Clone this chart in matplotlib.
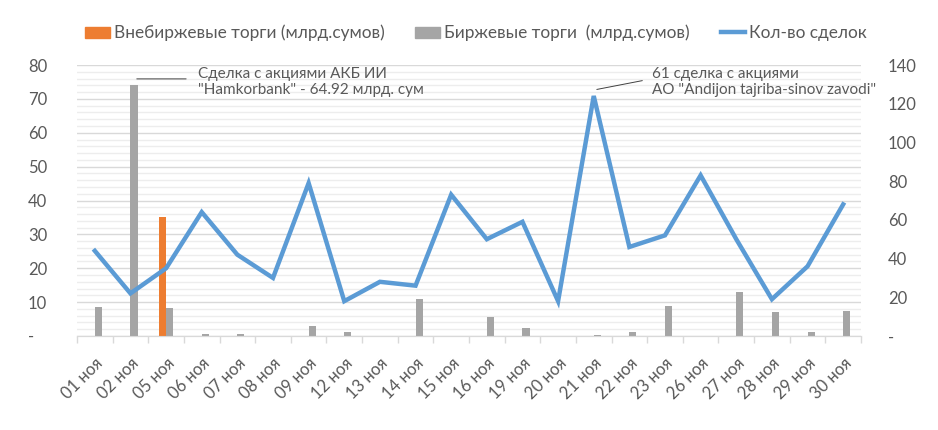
"""Ноябрь: внебиржевые и биржевые торги, количество сделок."""
import matplotlib.pyplot as plt
import numpy as np
from matplotlib.lines import Line2D
from matplotlib.patches import Patch
from matplotlib.ticker import FixedLocator, MultipleLocator

plt.rcParams["font.family"] = ["Lato", "DejaVu Sans"]

days = ["01 ноя", "02 ноя", "05 ноя", "06 ноя", "07 ноя", "08 ноя", "09 ноя",
        "12 ноя", "13 ноя", "14 ноя", "15 ноя", "16 ноя", "19 ноя", "20 ноя",
        "21 ноя", "22 ноя", "23 ноя", "26 ноя", "27 ноя", "28 ноя", "29 ноя",
        "30 ноя"]
otc = [0, 0, 35, 0, 0, 0, 0, 0, 0, 0, 0, 0, 0, 0, 0, 0, 0, 0, 0, 0, 0, 0]
exchange = [8.5, 74, 8.2, 0.5, 0.5, 0, 2.9, 1.1, 0, 11, 0, 5.6, 2.4, 0,
            0.3, 1.2, 8.9, 0, 13.1, 7.2, 1.2, 7.5]
deals = [44, 22, 35, 64, 42, 30, 79, 18, 28, 26, 73, 50, 59, 18, 124, 46,
         52, 83, 50, 19, 36, 68]

TXT = "#595959"
ORANGE = "#ED7D31"
GRAY = "#A5A5A5"
BLUE = "#5B9BD5"
FS = 12

fig = plt.figure(figsize=(9.38, 4.30), dpi=100)
ax = fig.add_axes([77 / 938, 1 - 336 / 430, (861 - 77) / 938, (336 - 65) / 430])
ax2 = ax.twinx()

x = np.arange(len(days))
w = 0.2
ax.bar(x - w / 2, otc, width=w, color=ORANGE, zorder=3)
ax.bar(x + w / 2, exchange, width=w, color=GRAY, zorder=3)
ax2.plot(x, deals, color=BLUE, lw=3.2, solid_joinstyle="miter", zorder=4)

ax.set_xlim(-0.5, len(days) - 0.5)
ax.set_ylim(0, 80)
ax2.set_ylim(0, 140)

# grid: major every 10, minor every 2
ax.yaxis.set_major_locator(MultipleLocator(10))
ax.yaxis.set_minor_locator(MultipleLocator(2))
ax.grid(axis="y", which="major", color="#D9D9D9", lw=1, zorder=0)
ax.grid(axis="y", which="minor", color="#EDEDED", lw=1, zorder=0)
ax.set_axisbelow(True)

ax.set_yticks(np.arange(0, 81, 10))
ax.set_yticklabels(["-   "] + [str(v) for v in range(10, 81, 10)])
ax2.set_yticks(np.arange(0, 141, 20))
ax2.set_yticklabels(["-"] + [str(v) for v in range(20, 141, 20)])
ax.tick_params(axis="y", which="both", length=0, pad=21.5, labelsize=FS,
               labelcolor=TXT)
ax2.tick_params(axis="y", length=0, pad=19.5, labelsize=FS, labelcolor=TXT)

# x axis: labels at centres, tick marks at category boundaries
ax.set_xticks(x)
ax.set_xticklabels(days, rotation=45, ha="right", rotation_mode="anchor",
                   fontsize=FS, color=TXT)
ax.xaxis.set_minor_locator(FixedLocator(np.arange(-0.5, len(days), 1)))
ax.tick_params(axis="x", which="major", length=0, pad=14)
ax.tick_params(axis="x", which="minor", length=5, color="#D9D9D9", width=1)

for a in (ax, ax2):
    for side in ("top", "left", "right"):
        a.spines[side].set_visible(False)
    a.spines["bottom"].set_color("#D9D9D9")

# annotations
ax.annotate("", xy=(1.10, 75.9), xytext=(2.64, 75.9),
            arrowprops=dict(arrowstyle="-", color="#404040", lw=0.7))
ax.text(2.9, 75.0, "Сделка с акциями АКБ ИИ\n\"Hamkorbank\" - 64.92 млрд. сум",
        fontsize=11, color=TXT, va="center", linespacing=1.25)
ax2.annotate("", xy=(14.01, 127.1), xytext=(15.44, 132.2),
             arrowprops=dict(arrowstyle="-", color="#404040", lw=0.7))
ax2.text(15.63, 131.2, "61 сделка с акциями\nАО \"Andijon tajriba-sinov zavodi\"",
         fontsize=11, color=TXT, va="center", linespacing=1.25)

handles = [Patch(color=ORANGE), Patch(color=GRAY),
           Line2D([], [], color=BLUE, lw=3.2)]
labels = ["Внебиржевые торги (млрд.сумов)", "Биржевые торги  (млрд.сумов)",
          "Кол-во сделок"]
fig.legend(handles, labels, loc="center", bbox_to_anchor=(476 / 938, 1 - 33 / 430),
           ncol=3, frameon=False, fontsize=12.4, labelcolor=TXT,
           handlelength=1.45, handleheight=0.64, handletextpad=0.2,
           columnspacing=1.8, borderpad=0)

fig.savefig("out.png", dpi=100)
